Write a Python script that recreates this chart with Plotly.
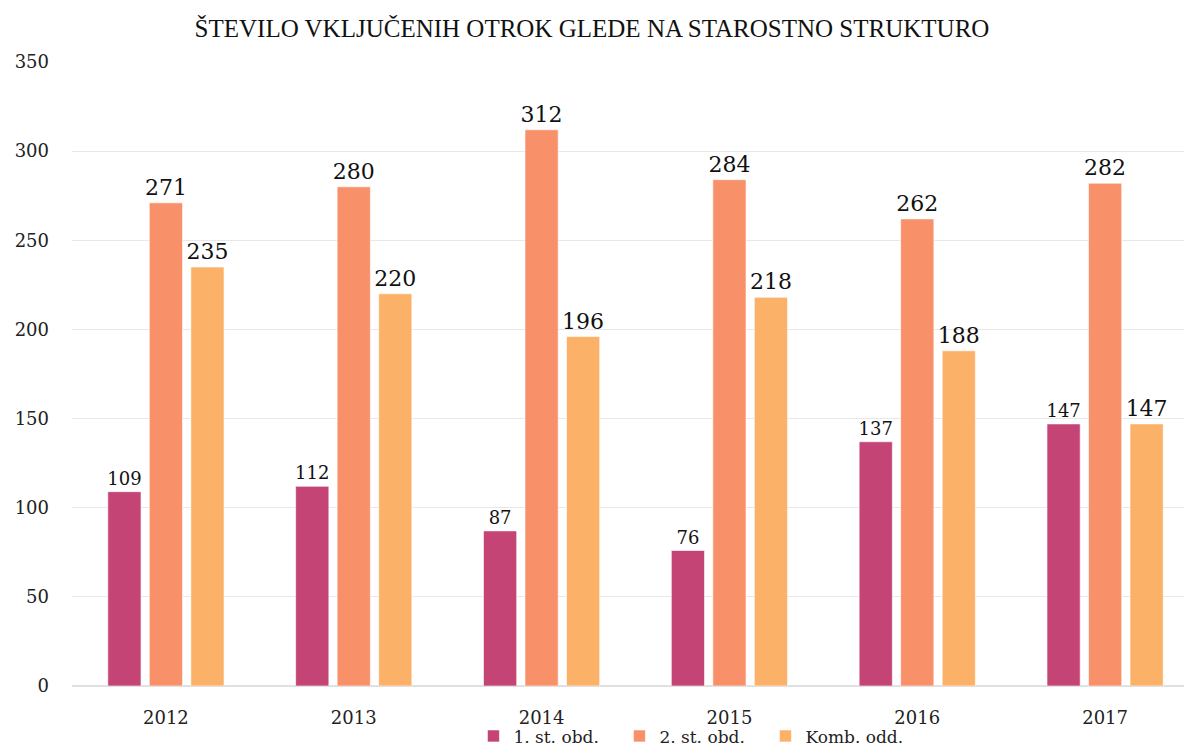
import plotly.graph_objects as go

years = ["2012", "2013", "2014", "2015", "2016", "2017"]
s1_name = "1. st. obd."
s2_name = "2. st. obd."
s3_name = "Komb. odd."
s1 = [109, 112, 87, 76, 137, 147]
s2 = [271, 280, 312, 284, 262, 282]
s3 = [235, 220, 196, 218, 188, 147]
y_ticks = [0, 50, 100, 150, 200, 250, 300, 350]

c1, c2, c3 = "#C44575", "#F8906A", "#FBB168"
serif = "DejaVu Serif, Liberation Serif, serif"

fig = go.Figure()
for name, vals, col, fs in [(s1_name, s1, c1, 18), (s2_name, s2, c2, 22), (s3_name, s3, c3, 22)]:
    fig.add_trace(go.Bar(
        x=years, y=vals, name=name,
        marker=dict(color=col, line=dict(color="rgba(255,255,255,0.6)", width=1)),
        text=[str(v) for v in vals], textposition="outside",
        constraintext="none",
        textfont=dict(family=serif, size=fs, color="#111111"),
        cliponaxis=False,
    ))

fig.update_layout(
    width=1184, height=746,
    margin=dict(l=72, r=0, t=62, b=60, autoexpand=False),
    paper_bgcolor="white", plot_bgcolor="white",
    barmode="group", bargap=0.337, bargroupgap=0.2,
    title=dict(text="ŠTEVILO VKLJUČENIH OTROK GLEDE NA STAROSTNO STRUKTURO",
               font=dict(family="Liberation Serif, serif", size=25, color="#111111"),
               x=0.5, xref="container", xanchor="center", y=0.962, yref="container", yanchor="middle"),
    font=dict(family=serif, color="#222222"),
    xaxis=dict(range=[-0.5, 5.42], showgrid=False, showline=False, ticks="",
               ticklabelstandoff=19, automargin=False,
               tickfont=dict(family=serif, size=18, color="#222222")),
    yaxis=dict(range=[0, 350], tickvals=y_ticks, showgrid=True, gridcolor="#E8E8E8",
               zeroline=True, zerolinecolor="#E0E0E0", zerolinewidth=1.5,
               ticks="", ticklabelstandoff=22, automargin=False,
               tickfont=dict(family=serif, size=18, color="#222222")),
    legend=dict(orientation="h", x=0.361, xanchor="left", y=0.037, yref="container", yanchor="top",
                font=dict(family=serif, size=17, color="#222222"),
                entrywidth=101, entrywidthmode="pixels", itemwidth=30,
                bgcolor="rgba(0,0,0,0)"),
    showlegend=True,
)

fig.write_html("out.html", config={"displayModeBar": False},
               post_script="document.body.style.margin='0';document.body.style.overflow='hidden';")
